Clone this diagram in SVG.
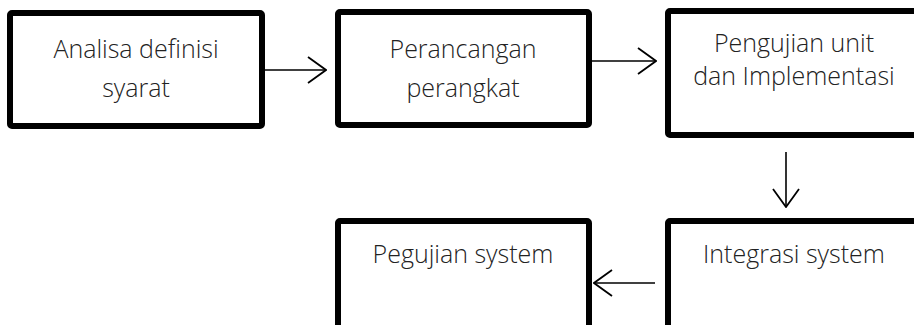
<svg xmlns="http://www.w3.org/2000/svg" width="914" height="325" viewBox="0 0 914 325">
<style>
.box{fill:#fff;stroke:#000;stroke-width:6;stroke-linejoin:round}
.t{font-family:"Open Sans","Noto Sans",sans-serif;font-weight:300;font-size:25px;fill:#222;text-anchor:middle}
.c{stroke:#000;stroke-width:1.6;fill:none}
</style>
<defs>
<marker id="ah" viewBox="0 0 20 28" refX="19" refY="14" markerWidth="20" markerHeight="28" markerUnits="userSpaceOnUse" orient="auto">
<path d="M1,1 L19,14 L1,27" fill="none" stroke="#000" stroke-width="1.8"/>
</marker>
</defs>
<g id="n1"><rect class="box" x="10" y="13" width="252" height="113" rx="2"/>
<text class="t" x="136" y="58">Analisa definisi</text><text class="t" x="136" y="97">syarat</text></g>
<g id="n2"><rect class="box" x="338" y="12" width="251" height="113" rx="2"/>
<text class="t" x="463" y="58">Perancangan</text><text class="t" x="463" y="97">perangkat</text></g>
<g id="n3"><rect class="box" x="668" y="11" width="270" height="124" rx="2"/>
<text class="t" x="794" y="52">Pengujian unit</text><text class="t" x="794" y="85">dan Implementasi</text></g>
<g id="n4"><rect class="box" x="668" y="221" width="270" height="130" rx="2"/>
<text class="t" x="794" y="263">Integrasi system</text></g>
<g id="n5"><rect class="box" x="338" y="221" width="251" height="130" rx="2"/>
<text class="t" x="463" y="263">Pegujian system</text></g>
<g id="connectors">
<line class="c" x1="265" y1="70" x2="326" y2="70" marker-end="url(#ah)"/>
<line class="c" x1="592" y1="61" x2="656" y2="61" marker-end="url(#ah)"/>
<line class="c" x1="786" y1="152" x2="786" y2="207" marker-end="url(#ah)"/>
<line class="c" x1="655" y1="283" x2="594" y2="283" marker-end="url(#ah)"/>
</g>
</svg>
